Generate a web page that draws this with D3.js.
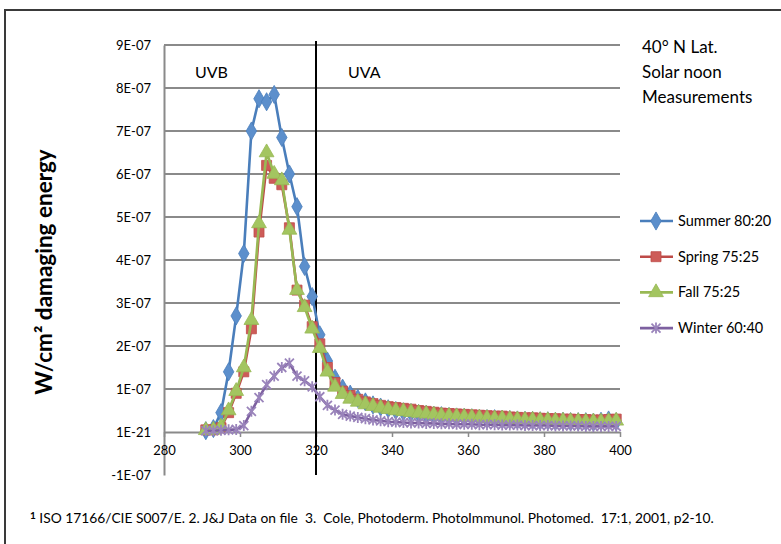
<!DOCTYPE html>
<html>
<head>
<meta charset="utf-8">
<script src="https://cdn.jsdelivr.net/npm/d3@7"></script>
<style>
  body { margin: 0; background: #fff; }
  svg { display: block; font-family: Lato, "Open Sans", sans-serif; }
</style>
</head>
<body>
<svg id="chart" width="781" height="544"></svg>
<script>
// wavelengths in nm, values in units of 1E-07 W/cm2
var wavelengths = [291, 293, 295, 297, 299, 301, 303, 305, 307, 309,
                   311, 313, 315, 317, 319, 321, 323, 325, 327, 329,
                   331, 333, 335, 337, 339, 341, 343, 345, 347, 349,
                   351, 353, 355, 357, 359, 361, 363, 365, 367, 369,
                   371, 373, 375, 377, 379, 381, 383, 385, 387, 389,
                   391, 393, 395, 397, 399];

var summer = [0.03, 0.08, 0.45, 1.4, 2.7, 4.15, 7.0, 7.75, 7.68, 7.85,
              6.85, 6.0, 5.24, 3.85, 3.15, 2.26, 1.65, 1.25, 1.02, 0.88,
              0.78, 0.7, 0.63, 0.58, 0.54, 0.5, 0.47, 0.45, 0.43, 0.41,
              0.39, 0.38, 0.36, 0.35, 0.34, 0.33, 0.32, 0.31, 0.31, 0.3,
              0.29, 0.28, 0.27, 0.27, 0.26, 0.26, 0.25, 0.25, 0.24, 0.24,
              0.24, 0.23, 0.25, 0.28, 0.24];

var spring = [0.05, 0.05, 0.1, 0.45, 0.9, 1.4, 2.4, 4.65, 6.2, 5.9,
              5.75, 4.75, 3.3, 2.95, 2.45, 2.05, 1.5, 1.15, 0.95, 0.85,
              0.76, 0.7, 0.66, 0.62, 0.59, 0.57, 0.55, 0.53, 0.5, 0.48,
              0.46, 0.44, 0.43, 0.42, 0.41, 0.4, 0.39, 0.38, 0.37, 0.37,
              0.35, 0.34, 0.33, 0.33, 0.32, 0.31, 0.31, 0.3, 0.3, 0.29,
              0.29, 0.28, 0.28, 0.29, 0.3];

var fall = [0.04, 0.05, 0.12, 0.5, 0.95, 1.5, 2.6, 4.85, 6.5, 6.0,
            5.85, 4.7, 3.3, 2.9, 2.4, 1.95, 1.4, 1.05, 0.88, 0.77,
            0.7, 0.64, 0.6, 0.56, 0.53, 0.5, 0.48, 0.46, 0.44, 0.42,
            0.4, 0.38, 0.37, 0.36, 0.35, 0.34, 0.33, 0.32, 0.31, 0.31,
            0.3, 0.29, 0.28, 0.28, 0.27, 0.27, 0.26, 0.26, 0.25, 0.25,
            0.24, 0.24, 0.24, 0.25, 0.26];

var winter = [0.03, 0.03, 0.04, 0.05, 0.06, 0.15, 0.48, 0.8, 1.1, 1.3,
              1.5, 1.6, 1.3, 1.19, 1.05, 0.82, 0.62, 0.51, 0.41, 0.37,
              0.34, 0.31, 0.28, 0.26, 0.24, 0.23, 0.22, 0.21, 0.21, 0.2,
              0.2, 0.19, 0.19, 0.18, 0.18, 0.18, 0.17, 0.17, 0.17, 0.16,
              0.16, 0.16, 0.15, 0.15, 0.15, 0.15, 0.14, 0.14, 0.14, 0.14,
              0.13, 0.13, 0.13, 0.13, 0.13];

var seriesNames = ["Summer 80:20", "Spring 75:25", "Fall 75:25", "Winter 60:40"];

var xTicks = [280, 300, 320, 340, 360, 380, 400];
var yTicks = [-1, 0, 1, 2, 3, 4, 5, 6, 7, 8, 9];
var yTickLabels = ["-1E-07", "1E-21", "1E-07", "2E-07", "3E-07", "4E-07",
                   "5E-07", "6E-07", "7E-07", "8E-07", "9E-07"];

var noteLines = ["40\u00b0 N Lat.", "Solar noon", "Measurements"];
var footnote = "ISO 17166/CIE S007/E. 2. J&J Data on file  3.  Cole, Photoderm. PhotoImmunol. Photomed.  17:1, 2001, p2-10.";

var styles = [
  {line: "#4a7ebb", fill: "#5b8fcc", marker: "diamond"},
  {line: "#be4b48", fill: "#cd5c59", marker: "square"},
  {line: "#98b954", fill: "#a3c561", marker: "triangle"},
  {line: "#7d60a0", fill: "#9a84bb", marker: "x"}
];

var series = [summer, spring, fall, winter].map(function(vals, i) {
  return {
    name: seriesNames[i],
    style: styles[i],
    values: vals.map(function(v, j) { return {wl: wavelengths[j], v: v}; })
  };
});

var svg = d3.select("#chart");

var x = d3.scaleLinear()
    .domain([280, 400])
    .range([164, 620]);

var y = d3.scaleLinear()
    .domain([-1, 9])
    .range([475, 45]);

var defs = svg.append("defs");
defs.append("filter")
    .attr("id", "soft")
    .append("feGaussianBlur")
    .attr("stdDeviation", 0.7);

// page frame
svg.append("path")
    .attr("d", "M5,544V10H781")
    .attr("fill", "none")
    .attr("stroke", "#3a3a3a")
    .attr("stroke-width", 2);

// gridlines
svg.append("g")
  .selectAll("line")
    .data(yTicks.filter(function(d) { return d > 0; }))
  .enter().append("line")
    .attr("x1", x(280))
    .attr("x2", x(400))
    .attr("y1", function(d) { return y(d); })
    .attr("y2", function(d) { return y(d); })
    .attr("stroke", "#8a8a8a")
    .attr("stroke-width", 2);

// y axis
var yAxis = svg.append("g")
    .attr("transform", "translate(" + x(280) + ",0)")
    .call(d3.axisLeft(y)
      .tickValues(yTicks)
      .tickFormat(function(d, i) { return yTickLabels[i]; })
      .tickSize(0)
      .tickPadding(13));
yAxis.select(".domain").attr("stroke", "#8a8a8a").attr("stroke-width", 2);
yAxis.selectAll("text")
    .attr("fill", "#000")
    .style("font-size", "13px")
    .style("font-family", "Lato, sans-serif");

// x axis at zero
var xAxis = svg.append("g")
    .attr("transform", "translate(0," + y(0) + ")")
    .call(d3.axisBottom(x)
      .tickValues(xTicks)
      .tickSize(5)
      .tickPadding(9)
      .tickSizeOuter(0));
xAxis.select(".domain").attr("stroke", "#8a8a8a").attr("stroke-width", 2);
xAxis.selectAll("line").attr("stroke", "#8a8a8a").attr("stroke-width", 1.5);
xAxis.selectAll("text")
    .attr("fill", "#000")
    .style("font-size", "13px")
    .style("font-family", "Lato, sans-serif");

// UVB / UVA divider
svg.append("line")
    .attr("x1", x(320))
    .attr("x2", x(320))
    .attr("y1", y(9) - 4)
    .attr("y2", y(-1))
    .attr("stroke", "#000")
    .attr("stroke-width", 2);

svg.append("text")
    .attr("x", 195)
    .attr("y", 78)
    .style("font-size", "16px")
    .text("UVB");

svg.append("text")
    .attr("x", 348)
    .attr("y", 78)
    .style("font-size", "16px")
    .text("UVA");

// series lines
var line = d3.line()
    .x(function(d) { return x(d.wl); })
    .y(function(d) { return y(d.v); });

function drawMarker(g, type, fill, stroke) {
  if (type === "x") {
    g.append("path")
        .attr("d", "M-4.5,-4.5L4.5,4.5M-4.5,4.5L4.5,-4.5M0,-5.5V5.5")
        .attr("fill", "none")
        .attr("stroke", fill)
        .attr("stroke-width", 1.8);
    return;
  }
  var sym = {diamond: d3.symbolDiamond, square: d3.symbolSquare, triangle: d3.symbolTriangle}[type];
  var size = {diamond: 95, square: 100, triangle: 95}[type];
  g.append("path")
      .attr("d", d3.symbol().type(sym).size(size)())
      .attr("fill", fill)
      .attr("stroke", stroke)
      .attr("stroke-width", 0.8);
}

series.forEach(function(s) {
  var g = svg.append("g");
  g.append("path")
      .datum(s.values)
      .attr("d", line)
      .attr("fill", "none")
      .attr("stroke", s.style.line)
      .attr("stroke-width", 2.6)
      .attr("stroke-linejoin", "round");

  var markers = g.append("g").attr("filter", "url(#soft)");
  s.values.forEach(function(d) {
    var m = markers.append("g")
        .attr("transform", "translate(" + x(d.wl) + "," + y(d.v) + ")");
    drawMarker(m, s.style.marker, s.style.fill, s.style.line);
  });
});

// axis title
svg.append("text")
    .attr("transform", "translate(52,272) rotate(-90)")
    .attr("text-anchor", "middle")
    .style("font-size", "22.5px")
    .style("font-weight", "bold")
    .text("W/cm\u00b2 damaging energy");

// note at top right
svg.append("g")
  .selectAll("text")
    .data(noteLines)
  .enter().append("text")
    .attr("x", 642)
    .attr("y", function(d, i) { return 53 + i * 25; })
    .style("font-size", "17px")
    .text(function(d) { return d; });

// legend
var legend = svg.append("g")
  .selectAll("g")
    .data(series)
  .enter().append("g")
    .attr("transform", function(d, i) { return "translate(640," + (221 + i * 35.7) + ")"; });

legend.append("line")
    .attr("x1", 0)
    .attr("x2", 33)
    .attr("stroke", function(d) { return d.style.line; })
    .attr("stroke-width", 2.6);

legend.each(function(d) {
  var m = d3.select(this).append("g")
      .attr("transform", "translate(16,0)")
      .attr("filter", "url(#soft)");
  drawMarker(m, d.style.marker, d.style.fill, d.style.line);
});

legend.append("text")
    .attr("x", 38)
    .attr("y", 5)
    .style("font-size", "14.5px")
    .text(function(d) { return d.name; });

// footnote
var foot = svg.append("text")
    .attr("x", 30)
    .attr("y", 523)
    .style("font-size", "13.8px")
    .style("white-space", "pre");
foot.append("tspan")
    .attr("dy", -4)
    .style("font-size", "10px")
    .style("font-weight", "bold")
    .text("1");
foot.append("tspan")
    .attr("dy", 4)
    .text(" " + footnote);
</script>
</body>
</html>
